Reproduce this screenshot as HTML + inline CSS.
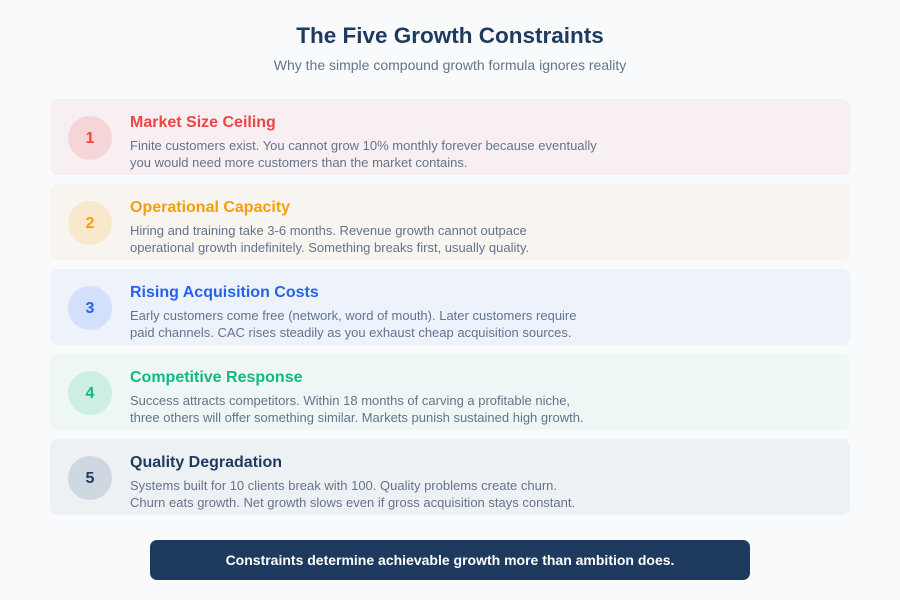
<!DOCTYPE html>
<html><head><meta charset="utf-8"><style>
*{margin:0;padding:0;box-sizing:border-box}
body{width:900px;height:600px;background:#f8fafc;font-family:"Liberation Sans",sans-serif;position:relative;overflow:hidden}
.t{position:absolute;left:0;width:900px;text-align:center}
.card{position:absolute;left:50px;width:800px;height:76px;border-radius:8px}
.c{position:absolute;left:18px;top:17px;width:44px;height:44px;border-radius:50%;text-align:center;line-height:46px;font-weight:bold;font-size:16px}
.h{position:absolute;left:80px;top:15px;font-size:16px;font-weight:bold}
.b{position:absolute;left:80px;top:38px;font-size:13px;line-height:17px;color:#64748b}
</style></head><body>
<div class="t" style="top:23px;font-size:22.5px;font-weight:bold;color:#1e3a5f">The Five Growth Constraints</div>
<div class="t" style="top:57px;font-size:14px;color:#64748b">Why the simple compound growth formula ignores reality</div>

<div class="card" style="top:99px;background:#f8eff2"><div class="c" style="background:#f6d5d9;color:#ef4444">1</div><div class="h" style="color:#ef4444">Market Size Ceiling</div><div class="b">Finite customers exist. You cannot grow 10% monthly forever because eventually<br>you would need more customers than the market contains.</div></div>

<div class="card" style="top:184px;background:#f8f4ef"><div class="c" style="background:#fae8cc;color:#f59e0b">2</div><div class="h" style="color:#f59e0b">Operational Capacity</div><div class="b">Hiring and training take 3-6 months. Revenue growth cannot outpace<br>operational growth indefinitely. Something breaks first, usually quality.</div></div>

<div class="card" style="top:269px;background:#eef2fb"><div class="c" style="background:#d3e0fb;color:#2563eb">3</div><div class="h" style="color:#2563eb">Rising Acquisition Costs</div><div class="b">Early customers come free (network, word of mouth). Later customers require<br>paid channels. CAC rises steadily as you exhaust cheap acquisition sources.</div></div>

<div class="card" style="top:354px;background:#eef7f5"><div class="c" style="background:#cdeee2;color:#10b981">4</div><div class="h" style="color:#10b981">Competitive Response</div><div class="b">Success attracts competitors. Within 18 months of carving a profitable niche,<br>three others will offer something similar. Markets punish sustained high growth.</div></div>

<div class="card" style="top:439px;background:#eef1f4"><div class="c" style="background:#cfd8e1;color:#1e3a5f">5</div><div class="h" style="color:#1e3a5f">Quality Degradation</div><div class="b">Systems built for 10 clients break with 100. Quality problems create churn.<br>Churn eats growth. Net growth slows even if gross acquisition stays constant.</div></div>

<div style="position:absolute;left:150px;top:540px;width:600px;height:40px;border-radius:7px;background:#1e3a5f;color:#fff;font-weight:bold;font-size:14px;text-align:center;line-height:40px">Constraints determine achievable growth more than ambition does.</div>
</body></html>
